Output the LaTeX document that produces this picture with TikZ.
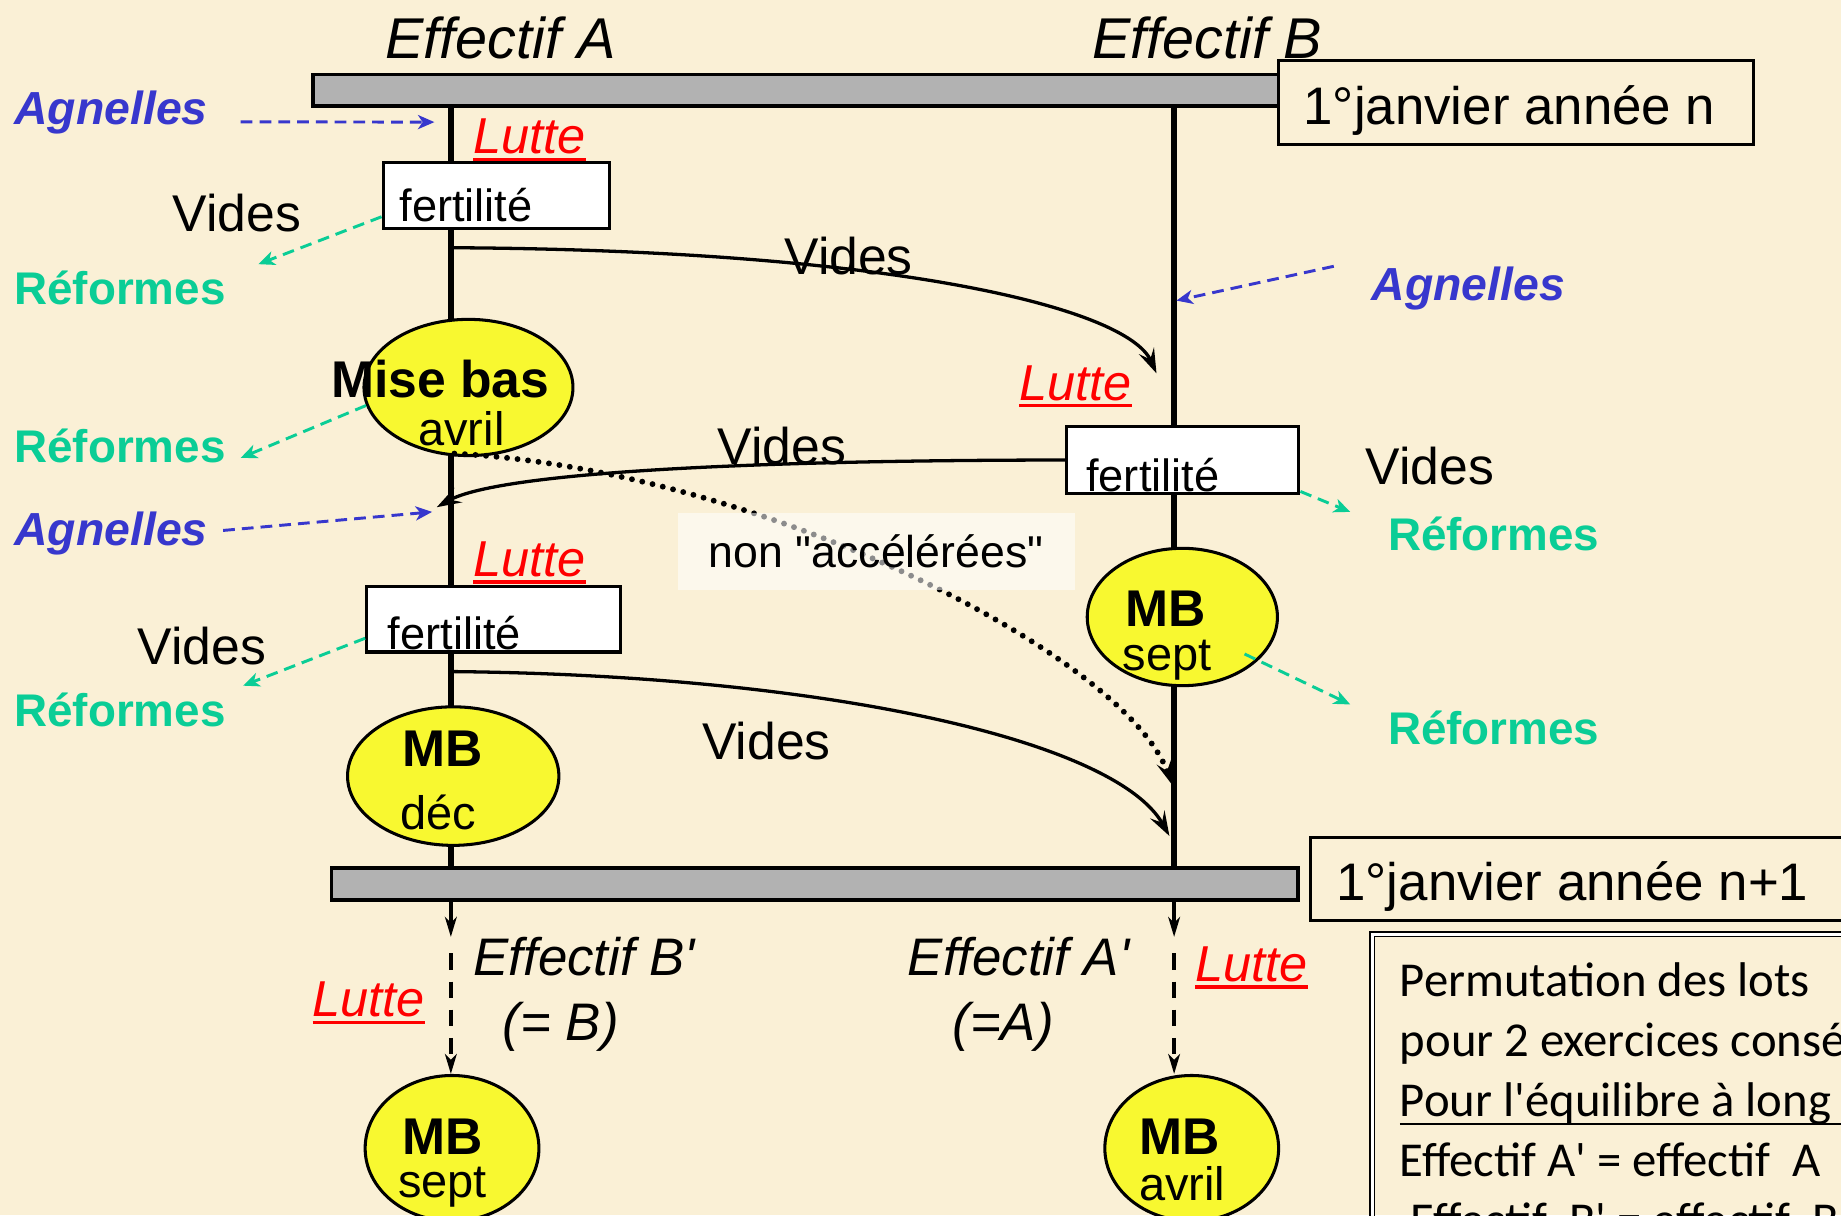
\documentclass[tikz,border=0pt]{standalone}
\usepackage{fontspec}
\setmainfont{Liberation Sans}
\newfontfamily\calib{Carlito}
\usetikzlibrary{arrows.meta,shapes.geometric,calc}
\pgfdeclarelayer{bg}
\pgfsetlayers{bg,main}

\definecolor{parch}{RGB}{250,240,214}
\definecolor{agblue}{RGB}{55,55,205}
\definecolor{refgreen}{RGB}{10,205,150}
\definecolor{ellyellow}{RGB}{248,248,48}
\definecolor{bargray}{RGB}{178,178,178}

\newcommand\fs[1]{\fontsize{#1}{#1}\selectfont}
\newsavebox\ulbox
\newcommand\redul[1]{\sbox\ulbox{#1}\rlap{\rule[-6pt]{\wd\ulbox}{2.8pt}}\usebox\ulbox}
\newcommand\blkul[1]{\sbox\ulbox{#1}\rlap{\rule[-7pt]{\wd\ulbox}{1.8pt}}\usebox\ulbox}
\newcommand\ap{\textquotesingle}

\tikzset{
  lbl/.style={inner sep=0pt, anchor=base west},
  eff/.style={lbl, font=\fs{49}\itshape},
  effs/.style={lbl, font=\fs{45}\itshape},
  lutte/.style={lbl, font=\fs{43}\itshape, text=red},
  vides/.style={lbl, font=\fs{44}},
  refo/.style={lbl, font=\fs{39}\bfseries, text=refgreen},
  agn/.style={lbl, font=\fs{39.5}\bfseries\itshape, text=agblue},
  bar/.style={draw, line width=3pt, fill=bargray, rectangle, inner sep=0pt},
  janbox/.style={draw, line width=2.6pt, rectangle, inner sep=0pt},
  janlbl/.style={anchor=base west, inner sep=0pt, font=\fs{45}},
  fbox/.style={draw, line width=2.6pt, fill=white, rectangle, inner sep=0pt},
  flbl/.style={anchor=base west, inner sep=0pt, font=\fs{38.5}},
  ell/.style={draw, line width=2.6pt, fill=ellyellow, ellipse, inner sep=0pt},
  mbf/.style={inner sep=0pt, font=\fs{44}\bfseries},
  smf/.style={inner sep=0pt, font=\fs{40}},
  vline/.style={line width=4.5pt},
  cur/.style={line width=2.8pt, -{Stealth[length=21pt,width=14pt,inset=8pt]}},
  dotcur/.style={line width=5pt, line cap=round, dash pattern=on 0pt off 9pt, -{Stealth[length=20pt,width=13pt,inset=8pt]}},
  bdash/.style={draw=agblue, line width=2.5pt, dash pattern=on 10pt off 6pt, -{Stealth[length=14pt,width=12pt,inset=4pt]}},
  gdash/.style={draw=refgreen, line width=2.5pt, dash pattern=on 10pt off 6pt, -{Stealth[length=14pt,width=12pt,inset=4pt]}},
  solar/.style={line width=3pt, -{Stealth[length=17pt,width=10pt,inset=5pt]}},
  dashar/.style={line width=3.5pt, dash pattern=on 14pt off 10pt, -{Stealth[length=17pt,width=10pt,inset=5pt]}},
  nonbox/.style={fill=white, fill opacity=0.55, text opacity=1, inner sep=0pt, font=\fs{38}},
  notebox/.style={draw, double, double distance=2.5pt, line width=1.4pt, rectangle, inner sep=0pt},
  notel/.style={lbl, font=\calib\fs{41.5}},
}

\begin{document}
\begin{tikzpicture}[x=1pt,y=-1pt]
\clip (0,0) rectangle (1568,1035);

% column positions
\coordinate (xA) at (384,0);
\coordinate (xB) at (1000,0);

% bars and date boxes
\node[bar, minimum width=835pt, minimum height=27pt, anchor=north west] (bar1) at (265,62) {};
\node[bar, minimum width=823pt, minimum height=27pt, anchor=north west] (bar2) at (281,738) {};
\node[janbox, fill=parch, minimum width=404pt, minimum height=72pt, anchor=north west,
      label={[janlbl, xshift=22pt, yshift=-19pt]west:1°janvier année n}] (jan1) at (1088,50) {};
\node[janbox, fill=parch, minimum width=520pt, minimum height=71pt, anchor=north west,
      label={[janlbl, xshift=23pt, yshift=-18pt]west:1°janvier année n+1}] (jan2) at (1115,712) {};

% headings
\node[eff] (effA) at (328,50) {Effectif A};
\node[eff] (effB) at (930,50) {Effectif B};

% column A
\node[agn] (ag1) at (12,106) {Agnelles};
\node[lutte] (lA1) at (403,131) {\redul{Lutte}};
\node[fbox, minimum width=193pt, minimum height=56pt, anchor=north west,
      label={[flbl, xshift=15pt, yshift=7pt]south west:fertilité}] (fA1) at (325,137) {};
\node[vides] (vA1) at (147,197) {Vides};
\node[refo] (rA1) at (12,259) {Réformes};
\node[ell, minimum width=178pt, minimum height=116pt,
      label={[mbf, xshift=-24pt, yshift=7pt]center:Mise bas},
      label={[smf, xshift=-6pt, yshift=-35pt]center:avril}] (mbA) at (399,330) {};
\node[refo] (rA2) at (12,394) {Réformes};
\node[agn] (ag2) at (12,465) {Agnelles};
\node[lutte] (lA2) at (403,491) {\redul{Lutte}};
\node[fbox, minimum width=216pt, minimum height=56pt, anchor=north west,
      label={[flbl, xshift=19pt, yshift=3pt]south west:fertilité}] (fA2) at (311,498) {};
\node[vides] (vA2) at (117,566) {Vides};
\node[refo] (rA3) at (12,619) {Réformes};
\node[ell, minimum width=180pt, minimum height=118pt,
      label={[mbf, xshift=-9pt, yshift=23pt]center:MB},
      label={[smf, xshift=-13pt, yshift=-31pt]center:déc}] (mbD) at (386,661) {};

% column B
\node[agn] (agB) at (1168,256) {Agnelles};
\node[lutte] (lB1) at (868,341) {\redul{Lutte}};
\node[fbox, minimum width=198pt, minimum height=57pt, anchor=north west,
      label={[flbl, xshift=18pt, yshift=3pt]south west:fertilité}] (fB) at (907,362) {};
\node[vides] (vB) at (1163,413) {Vides};
\node[refo] (rB1) at (1182,469) {Réformes};
\node[ell, minimum width=162pt, minimum height=117pt,
      label={[mbf, xshift=-14pt, yshift=7pt]center:MB},
      label={[smf, xshift=-13pt, yshift=-37pt]center:sept}] (mbsB) at (1007,525.5) {};
\node[refo] (rB2) at (1182,634) {Réformes};

% curve labels
\node[vides] (vC1) at (668,234) {Vides};
\node[vides] (vC2) at (611,396) {Vides};
\node[vides] (vC3) at (598,647) {Vides};

% year n+1
\node[effs] (effBp) at (403,831) {Effectif B\ap};
\node[effs] (eqB) at (428,886) {(= B)};
\node[effs] (effAp) at (773,831) {Effectif A\ap};
\node[effs] (eqA) at (811,886) {(=A)};
\node[lutte] (lC) at (266,866) {\redul{Lutte}};
\node[lutte] (lD) at (1018,836) {\redul{Lutte}};
\node[ell, minimum width=148pt, minimum height=124pt,
      label={[mbf, xshift=-8pt, yshift=10pt]center:MB},
      label={[smf, xshift=-8pt, yshift=-33pt]center:sept}] (mbsA) at (385,978) {};
\node[ell, minimum width=148pt, minimum height=124pt,
      label={[mbf, xshift=-10pt, yshift=10pt]center:MB},
      label={[smf, xshift=-8pt, yshift=-30pt]center:avril}] (mbaB) at (1015,978) {};

% note box
\node[notebox, minimum width=480pt, minimum height=320pt, anchor=north west] (note) at (1168,795) {};
\node[notel] (n1) at (1192,849) {Permutation des lots};
\node[notel] (n2) at (1192,900) {pour 2 exercices consécutifs};
\node[notel] (n3) at (1192,951) {\blkul{Pour l\ap équilibre à long terme :}};
\node[notel] (n4) at (1192,1002) {Effectif A\ap{} = effectif\ \ A};
\node[notel] (n5) at (1192,1053) {\ Effectif\ \ B\ap{} = effectif\ \ B};

% connector end points
\coordinate (bA1e) at (370,104);
\coordinate (bA2e) at (368,436);
\coordinate (bBe) at (1002,256);
\coordinate (gA1e) at (220,225);
\coordinate (gA2e) at (205,390);
\coordinate (gA3e) at (207,584);
\coordinate (gB1e) at (1150,436);
\coordinate (gB2e) at (1150,600);
\coordinate (cA1) at (386,211);
\coordinate (c1e) at (985,318);
\coordinate (c2e) at (372,432);
\coordinate (dte) at (998,668);
\coordinate (cA3) at (386,572);
\coordinate (c3e) at (996,712);
\coordinate (tA) at (384,798);
\coordinate (dA) at (384,812);
\coordinate (tB) at (1000,798);
\coordinate (dB) at (1000,812);

\begin{pgfonlayer}{bg}
  \fill[parch] (0,0) rectangle (1568,1035);
  \draw[vline] (bar1.south -| xA) -- (bar2.north -| xA);
  \draw[vline] (bar1.south -| xB) -- (bar2.north -| xB);
\end{pgfonlayer}

% flows
\draw[cur] (cA1) .. controls (760,213) and (960,262) .. (c1e);
\draw[cur] (fB.west) .. controls (600,392) and (420,405) .. (c2e);
\draw[cur] (cA3) .. controls (700,575) and (950,630) .. (c3e);
\draw[dotcur] ([xshift=-12pt,yshift=3pt]mbA.south) .. controls (650,400) and (960,560) .. (dte);

\node[nonbox, minimum width=338pt, minimum height=65pt, anchor=north west] (nacc) at (577,437) {non \textquotedbl accélérées\textquotedbl};

% dashed inflows / outflows
\draw[bdash] ([xshift=28pt,yshift=-8pt]ag1.east) -- (bA1e);
\draw[bdash] ([xshift=13pt,yshift=3pt]ag2.east) -- (bA2e);
\draw[bdash] ([xshift=-32pt,yshift=19pt]agB.west) -- (bBe);
\draw[gdash] ([yshift=11pt]fA1.south west) -- (gA1e);
\draw[gdash] (mbA.190) -- (gA2e);
\draw[gdash] ([yshift=13pt]fA2.south west) -- (gA3e);
\draw[gdash] ([yshift=3pt]fB.south east) -- (gB1e);
\draw[gdash] ($(mbsB.center)+(53,31.5)$) -- (gB2e);

% next year
\draw[solar] (bar2.south -| xA) -- (tA);
\draw[dashar] (dA) -- (mbsA.north -| xA);
\draw[solar] (bar2.south -| xB) -- (tB);
\draw[dashar] (dB) -- (mbaB.north -| xB);
\end{tikzpicture}
\end{document}
